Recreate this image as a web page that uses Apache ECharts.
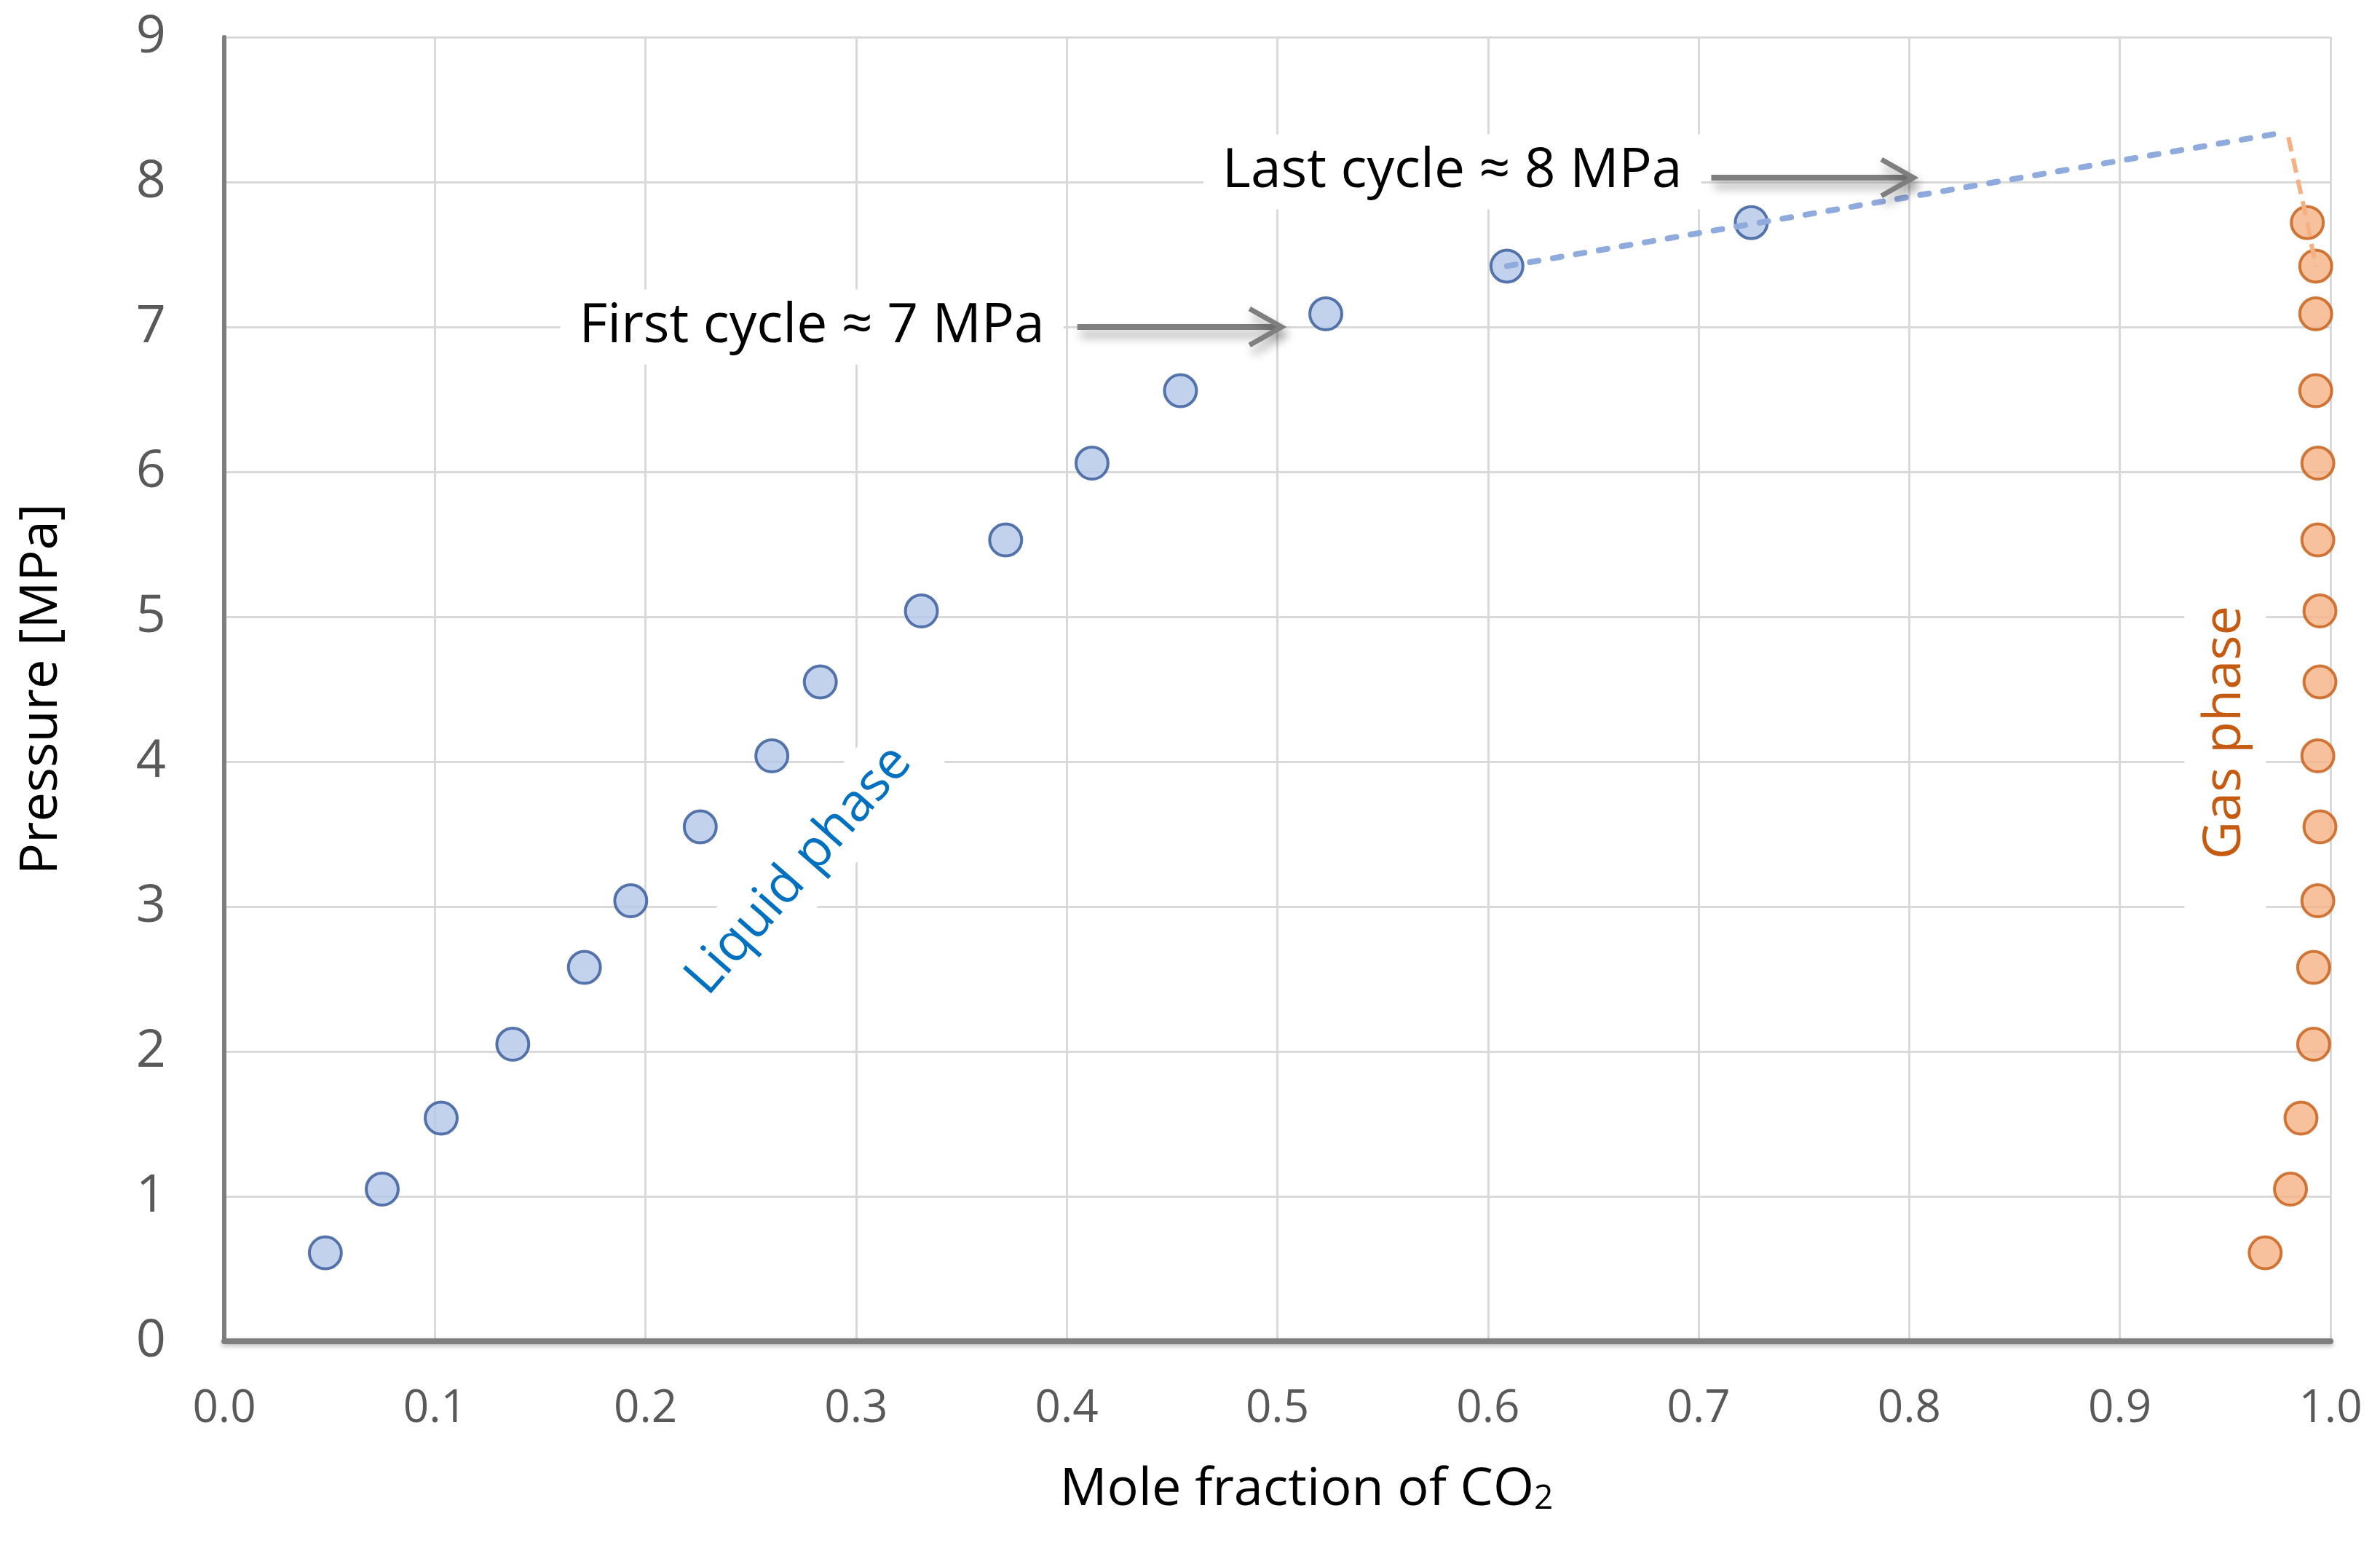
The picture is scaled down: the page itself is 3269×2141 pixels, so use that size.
<!DOCTYPE html>
<html><head><meta charset="utf-8">
<script src="https://cdn.jsdelivr.net/npm/echarts@6/dist/echarts.min.js"></script>
<style>html,body{margin:0;padding:0;background:#fff}#c{width:3269px;height:2141px}</style>
</head><body><div id="c"></div>
<script>
// Pressure levels (MPa) shared by both phases
const pressure = [0.61, 1.05, 1.54, 2.05, 2.58, 3.04, 3.55, 4.04, 4.55, 5.04, 5.53, 6.06, 6.56, 7.09, 7.42, 7.72];
// Mole fraction of CO2 in the liquid phase
const liquidX = [0.048, 0.075, 0.103, 0.137, 0.171, 0.193, 0.226, 0.260, 0.283, 0.331, 0.371, 0.412, 0.454, 0.523, 0.609, 0.725];
// Mole fraction of CO2 in the gas phase
const gasX = [0.969, 0.981, 0.986, 0.992, 0.992, 0.994, 0.995, 0.994, 0.995, 0.995, 0.994, 0.994, 0.993, 0.993, 0.993, 0.989];
// Dashed extrapolation lines
const liquidTrendX = [0.609, 0.977];
const liquidTrendY = [7.42, 8.34];
const gasTrendX = [0.980, 0.989, 0.993];
const gasTrendY = [8.31, 7.72, 7.42];
// Axis ticks
const xTicks = [0, 0.1, 0.2, 0.3, 0.4, 0.5, 0.6, 0.7, 0.8, 0.9, 1.0];
const yTicks = [0, 1, 2, 3, 4, 5, 6, 7, 8, 9];
// Annotation texts (anchored in data units)
const noteTexts = ['First cycle ≈ 7 MPa', 'Last cycle ≈ 8 MPa'];
const noteAnchorX = [0.279, 0.583];
const noteAnchorY = [7.0, 8.07];
const arrowFromX = [0.405, 0.706];
const arrowToX = [0.502, 0.802];
const arrowY = [7.0, 8.03];
const phaseLabels = ['Liquid phase', 'Gas phase'];
const phaseAnchorX = [0.273, 0.950];
const phaseAnchorY = [3.25, 4.20];

const FONT = '"Open Sans", "Noto Sans", sans-serif';
const pair = (xs, ys) => xs.map((x, i) => [x, ys[i]]);

const chart = echarts.init(document.getElementById('c'), null, {renderer: 'canvas'});
chart.setOption({
  backgroundColor: '#ffffff',
  animation: false,
  grid: {left: 308, right: 68, top: 51, bottom: 299, containLabel: false},
  xAxis: {
    type: 'value', min: xTicks[0], max: xTicks[xTicks.length - 1], interval: 0.1,
    name: 'Mole fraction of CO{sub|2}', nameLocation: 'middle', nameGap: 168,
    nameTextStyle: {
      fontFamily: FONT, fontSize: 72, color: '#000000', padding: [0, 0, 0, 80],
      rich: {sub: {fontFamily: FONT, fontSize: 46, color: '#000000', verticalAlign: 'bottom', padding: [0, 0, 0, 0]}}
    },
    axisLine: {show: true, onZero: false, lineStyle: {color: '#7f7f7f', width: 8, shadowColor: 'rgba(0,0,0,0.25)', shadowBlur: 6, shadowOffsetY: 3}},
    axisTick: {show: false},
    axisLabel: {fontFamily: FONT, fontSize: 62, color: '#595959', margin: 62, formatter: v => v.toFixed(1)},
    splitLine: {show: true, lineStyle: {color: '#d9d9d9', width: 3}}
  },
  yAxis: {
    type: 'value', min: yTicks[0], max: yTicks[yTicks.length - 1], interval: 1,
    name: 'Pressure [MPa]', nameLocation: 'middle', nameGap: 215,
    nameTextStyle: {fontFamily: FONT, fontSize: 72, color: '#000000'},
    axisLine: {show: true, onZero: false, lineStyle: {color: '#7f7f7f', width: 6}},
    axisTick: {show: false},
    axisLabel: {fontFamily: FONT, fontSize: 72, color: '#595959', margin: 80},
    splitLine: {show: true, lineStyle: {color: '#d9d9d9', width: 3}}
  },
  series: [
    {
      name: 'Liquid phase', type: 'scatter', data: pair(liquidX, pressure), symbol: 'circle', symbolSize: 44, z: 3,
      itemStyle: {color: '#b4c7e7', borderColor: '#2f5597', borderWidth: 4}
    },
    {
      name: 'Gas phase', type: 'scatter', data: pair(gasX, pressure), symbol: 'circle', symbolSize: 44, z: 3,
      itemStyle: {color: '#f4b183', borderColor: '#c55a11', borderWidth: 4}
    },
    {
      name: 'Liquid trend', type: 'line', data: pair(liquidTrendX, liquidTrendY), showSymbol: false, symbol: 'none', z: 4,
      lineStyle: {color: '#8faadc', width: 8, type: [12, 20], cap: 'round'}
    },
    {
      name: 'Gas trend', type: 'line', data: pair(gasTrendX, gasTrendY), showSymbol: false, symbol: 'none', z: 4,
      lineStyle: {color: '#f4b183', width: 6, type: [20, 10]}
    }
  ]
});

function px(x, y) { return chart.convertToPixel({xAxisIndex: 0, yAxisIndex: 0}, [x, y]); }

const graphics = [];
// Annotation texts with white boxes
noteTexts.forEach((t, i) => {
  const p = px(noteAnchorX[i], noteAnchorY[i]);
  graphics.push({
    type: 'text', x: p[0], y: p[1], z: 50,
    style: {text: t, fill: '#000000', font: '75px ' + FONT, align: 'center', verticalAlign: 'middle',
      backgroundColor: '#ffffff', padding: [14, 26]}
  });
  const a = px(arrowFromX[i], arrowY[i]);
  const b = px(arrowToX[i], arrowY[i]);
  const shadow = {shadowColor: 'rgba(0,0,0,0.35)', shadowBlur: 14, shadowOffsetX: 4, shadowOffsetY: 10};
  graphics.push({
    type: 'line', z: 50, shape: {x1: a[0], y1: a[1], x2: b[0] - 4, y2: b[1]},
    style: Object.assign({stroke: '#7f7f7f', lineWidth: 8}, shadow)
  });
  graphics.push({
    type: 'polyline', z: 50, shape: {points: [[b[0] - 44, b[1] - 25], [b[0], b[1]], [b[0] - 44, b[1] + 25]]},
    style: Object.assign({stroke: '#7f7f7f', lineWidth: 7, fill: null}, shadow)
  });
});
// Phase labels
const lp = px(phaseAnchorX[0], phaseAnchorY[0]);
graphics.push({
  type: 'text', x: lp[0], y: lp[1], rotation: 48.7 * Math.PI / 180, z: 40,
  style: {text: phaseLabels[0], fill: '#0070c0', font: '72px ' + FONT, align: 'center', verticalAlign: 'middle',
    backgroundColor: '#ffffff', padding: [16, 30]}
});
const gp = px(phaseAnchorX[1], phaseAnchorY[1]);
graphics.push({
  type: 'text', x: gp[0], y: gp[1], rotation: Math.PI / 2, z: 40,
  style: {text: phaseLabels[1], fill: '#c55a11', font: '72px ' + FONT, align: 'center', verticalAlign: 'middle',
    backgroundColor: '#ffffff', padding: [20, 80]}
});
chart.setOption({graphic: graphics});
</script>
</body></html>
